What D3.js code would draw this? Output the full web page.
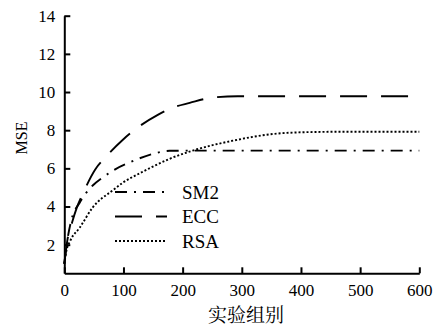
<!DOCTYPE html>
<html>
<head>
<meta charset="utf-8">
<script src="https://cdn.jsdelivr.net/npm/d3@7/dist/d3.min.js"></script>
</head>
<body style="margin:0">
<script>
// Data
var xTicks = [0, 100, 200, 300, 400, 500, 600];
var yTicks = [2, 4, 6, 8, 10, 12, 14];

var sm2X = [0, 5, 12, 26, 48, 64, 86, 106, 125, 157, 178, 220, 600];
var sm2Y = [1.0, 2.2, 3.3, 4.2, 5.1, 5.5, 5.95, 6.25, 6.5, 6.82, 6.92, 6.93, 6.93];

var eccX = [0, 5, 13, 21, 32, 52, 69, 99, 121, 158, 182, 212, 249, 293, 600];
var eccY = [1.0, 2.2, 3.15, 3.93, 4.72, 5.93, 6.56, 7.5, 8.07, 8.8, 9.17, 9.43, 9.7, 9.78, 9.78];

var rsaX = [0, 3, 10, 26, 48, 82, 99, 128, 145, 178, 217, 285, 359, 415, 480, 600];
var rsaY = [1.0, 1.6, 2.2, 2.89, 3.95, 4.85, 5.25, 5.75, 6.02, 6.5, 6.93, 7.45, 7.82, 7.9, 7.92, 7.92];

var seriesNames = ["SM2", "ECC", "RSA"];
var dashes = ["12,7,2,7", "27,14", "2,2"];

var serif = "Liberation Serif";

var svg = d3.select("body").append("svg")
    .attr("width", 439)
    .attr("height", 326)
    .style("display", "block");

// Scales
var x = d3.scaleLinear().domain([0, 600]).range([64.3, 419.3]);
var y = d3.scaleLinear().domain([0.5, 14]).range([273.3, 15.7]);

// Axes, ticks point inwards
var xG = svg.append("g")
    .attr("transform", "translate(0," + y(0.5) + ")")
    .call(d3.axisBottom(x)
        .tickValues(xTicks)
        .tickSizeInner(-6)
        .tickSizeOuter(0)
        .tickPadding(11));

var yG = svg.append("g")
    .attr("transform", "translate(" + x(0) + ",0)")
    .call(d3.axisLeft(y)
        .tickValues(yTicks)
        .tickSizeInner(-6)
        .tickSizeOuter(0)
        .tickPadding(9));

[xG, yG].forEach(function(g) {
    g.attr("font-family", serif).attr("font-size", 17);
    g.selectAll("path, line").attr("stroke", "#000").attr("stroke-width", 2);
    g.selectAll("text").attr("fill", "#000");
});

// Lines
var series = [
    { xs: sm2X, ys: sm2Y },
    { xs: eccX, ys: eccY },
    { xs: rsaX, ys: rsaY }
];

var line = d3.line()
    .x(function(d) { return x(d[0]); })
    .y(function(d) { return y(d[1]); })
    .curve(d3.curveMonotoneX);

series.forEach(function(s, i) {
    var pts = s.xs.map(function(v, j) { return [v, s.ys[j]]; });
    svg.append("path")
        .datum(pts)
        .attr("fill", "none")
        .attr("stroke", "#000")
        .attr("stroke-width", 1.9)
        .attr("stroke-dasharray", dashes[i])
        .attr("d", line);
});

// Legend
var legend = svg.append("g").attr("transform", "translate(115,192)");
seriesNames.forEach(function(name, i) {
    var row = legend.append("g").attr("transform", "translate(0," + (i * 24.5) + ")");
    row.append("line")
        .attr("x1", 0).attr("x2", 52)
        .attr("y1", 0).attr("y2", 0)
        .attr("stroke", "#000")
        .attr("stroke-width", 1.9)
        .attr("stroke-dasharray", dashes[i]);
    row.append("text")
        .attr("x", 67)
        .attr("y", 0)
        .attr("dy", "0.35em")
        .attr("font-family", serif)
        .attr("font-size", 19)
        .text(name);
});

// Axis titles
svg.append("text")
    .attr("transform", "translate(27,138) rotate(-90)")
    .attr("text-anchor", "middle")
    .attr("font-family", serif)
    .attr("font-size", 16)
    .text("MSE");

svg.append("text")
    .attr("x", 246)
    .attr("y", 322)
    .attr("text-anchor", "middle")
    .attr("font-family", "Noto Serif CJK SC")
    .attr("font-size", 19)
    .text("实验组别");
</script>
</body>
</html>
